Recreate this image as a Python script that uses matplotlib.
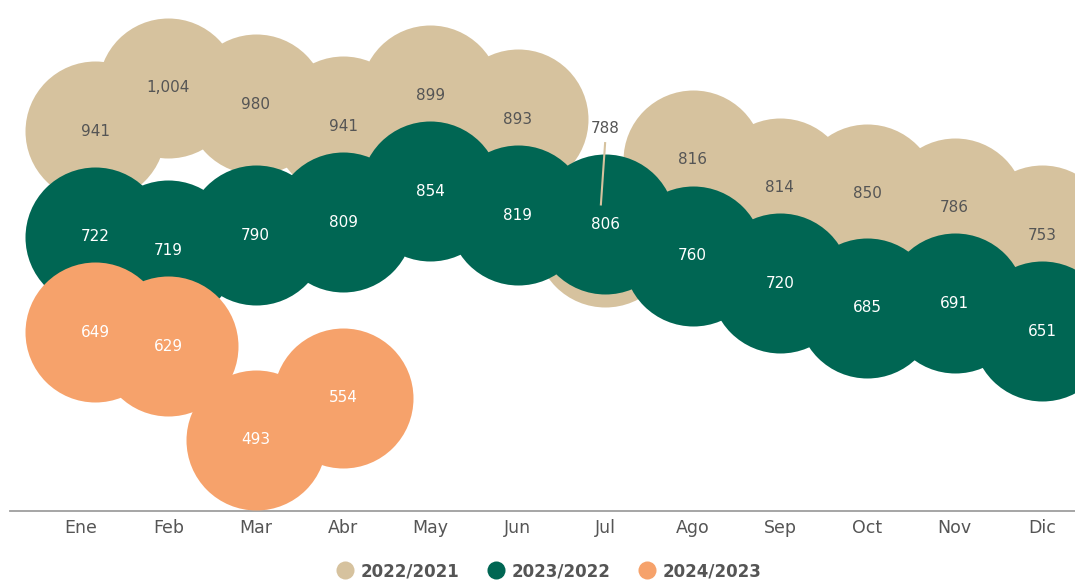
import matplotlib.pyplot as plt
from matplotlib.lines import Line2D

months = ["Ene", "Feb", "Mar", "Abr", "May", "Jun",
          "Jul", "Ago", "Sep", "Oct", "Nov", "Dic"]
series_names = ["2022/2021", "2023/2022", "2024/2023"]
y2022 = [941, 1004, 980, 941, 899, 893, 788, 816, 814, 850, 786, 753]
y2023 = [722, 719, 790, 809, 854, 819, 806, 760, 720, 685, 691, 651]
y2024 = [649, 629, 493, 554]

TAN = "#D6C29E"
GREEN = "#006653"
ORANGE = "#F6A26B"
TEXT = "#555555"

GAP = 139       # min vertical distance between bubbles of one month (value units)
SIZE = 10160    # marker area in pt^2 (~70px radius)
XMIN = 0.16     # keep first bubbles inside the left edge


def push_above(values, below):
    # move a bubble up when it sits too close to the one of the newer year
    out = []
    for i, v in enumerate(values):
        if i < len(below) and v - below[i] < GAP:
            v = below[i] + GAP
        out.append(v)
    return out


def xpos(n):
    return [max(i, XMIN) for i in range(n)]


x24 = xpos(len(y2024))
x23 = xpos(len(y2023))
x22 = xpos(len(y2022))

pos24 = y2024
pos23 = push_above(y2023, pos24)

pos22, lab22 = [], []
for i, v in enumerate(y2022):
    if v < y2023[i]:
        # hidden behind the green bubble: leave it, lift the label only
        pos22.append(v)
        lab22.append(pos23[i] + GAP)
    else:
        p = push_above([v], [pos23[i]])[0]
        pos22.append(p)
        lab22.append(p)

fig = plt.figure(figsize=(10.75, 5.8), dpi=100)
ax = fig.add_axes([10 / 1075, 1 - 511 / 580, 1 - 10 / 1075, 511 / 580])

ax.scatter(x22, pos22, s=SIZE, color=TAN, linewidths=0, zorder=1)
for i, v in enumerate(y2022):
    ax.text(x22[i], lab22[i], f"{v:,}", ha="center", va="center",
            fontsize=11, color=TEXT, zorder=1.5)
    if lab22[i] != pos22[i]:
        ax.plot([x22[i], x22[i] - 0.05], [lab22[i] - 20, pos22[i] + 45],
                color=TAN, lw=1.5, zorder=2.6, solid_capstyle="butt")

ax.scatter(x23, pos23, s=SIZE, color=GREEN, linewidths=0, zorder=2)
for i, v in enumerate(y2023):
    ax.text(x23[i], pos23[i], f"{v:,}", ha="center", va="center",
            fontsize=11, color="white", zorder=2.5)

ax.scatter(x24, pos24, s=SIZE, color=ORANGE, linewidths=0, zorder=3)
for i, v in enumerate(y2024):
    ax.text(x24[i], pos24[i], f"{v:,}", ha="center", va="center",
            fontsize=11, color="white", zorder=3.5)

ax.set_xlim(-0.813, 11.378)
ax.set_ylim(390, 1131)
ax.set_xticks(range(len(months)))
ax.set_xticklabels(months, fontsize=12.5, color=TEXT)
ax.tick_params(axis="x", length=0, pad=6)
ax.set_yticks([])
for side in ["top", "left", "right"]:
    ax.spines[side].set_visible(False)
ax.spines["bottom"].set_color("#9e9e9e")
ax.spines["bottom"].set_linewidth(1.3)

handles = [Line2D([], [], marker="o", linestyle="", markersize=13,
                  markerfacecolor=c, markeredgewidth=0)
           for c in [TAN, GREEN, ORANGE]]
leg = fig.legend(handles, series_names, loc="center", ncol=3,
                 bbox_to_anchor=(0.51, 1 - 571 / 580), frameon=False,
                 handletextpad=0.35, columnspacing=1.6, handlelength=1.2,
                 prop={"size": 12, "weight": "bold"})
for t in leg.get_texts():
    t.set_color(TEXT)

fig.savefig("out.png", dpi=100)
